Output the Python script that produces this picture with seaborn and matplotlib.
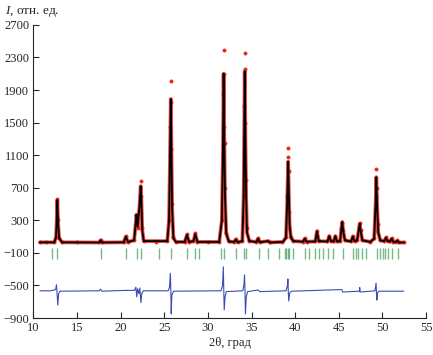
import numpy as np
import pandas as pd
import matplotlib
matplotlib.use('Agg')
import matplotlib.pyplot as plt
import seaborn as sns

obs_x = [10.75, 11.5, 12.4, 12.6, 12.68, 12.75, 12.83, 12.95, 13.3,
         15.0, 17.55, 17.7, 17.85,
         20.35, 20.6, 20.85,
         21.55, 21.72, 21.82, 21.95, 22.15, 22.3, 22.38, 22.48, 22.65,
         24.0, 25.35, 25.55, 25.65, 25.71, 25.75, 25.78, 25.83, 25.9, 26.05, 26.35,
         27.35, 27.6, 27.85, 28.35, 28.55, 28.8,
         30.0, 31.3, 31.6, 31.7, 31.76, 31.8, 31.84, 31.88, 31.92, 31.98, 32.1, 32.4,
         33.0, 33.2, 33.4,
         33.95, 34.1, 34.18, 34.22, 34.26, 34.3, 34.36, 34.46, 34.75,
         35.55, 35.75, 35.95, 36.9, 37.1, 38.5,
         38.95, 39.08, 39.15, 39.2, 39.25, 39.32, 39.5, 39.8,
         40.9, 41.1, 41.3, 42.3, 42.5, 42.7, 43.7, 43.9, 44.1, 44.4, 44.6, 44.8,
         45.15, 45.3, 45.4, 45.5, 45.7, 46.4, 46.6, 46.8,
         47.1, 47.3, 47.4, 47.5, 47.7, 48.6,
         49.05, 49.22, 49.3, 49.37, 49.47, 49.75,
         50.2, 50.4, 50.6, 50.85, 51.05, 51.25, 51.5, 51.7, 51.9, 52.45]
obs_y = [40, 30, 35, 90, 330, 560, 300, 80, 35,
         28, 30, 60, 30,
         35, 110, 40,
         60, 250, 370, 200, 420, 780, 600, 200, 50,
         35, 50, 300, 1100, 1450, 2010, 1750, 1180, 500, 90, 40,
         40, 130, 40, 50, 140, 40,
         30, 40, 300, 1000, 1850, 2390, 2100, 1440, 1250, 700, 150, 45,
         40, 70, 35,
         50, 600, 1700, 2350, 2160, 1500, 800, 200, 50,
         40, 80, 35, 50, 30, 40,
         100, 600, 1080, 1190, 900, 400, 100, 50,
         40, 80, 40, 45, 170, 50, 45, 110, 50, 45, 110, 45,
         50, 200, 270, 180, 60, 45, 110, 50,
         60, 200, 270, 180, 60, 40,
         80, 600, 935, 700, 250, 60,
         50, 90, 50, 45, 80, 40, 35, 55, 30, 30]

# calculated pattern
calc_x = [10.75, 12.4, 12.6, 12.68, 12.75, 12.83, 12.95, 13.3,
          17.55, 17.7, 17.85,
          20.35, 20.6, 20.85,
          21.55, 21.72, 21.82, 21.95, 22.15, 22.3, 22.38, 22.48, 22.65,
          25.35, 25.55, 25.65, 25.75, 25.83, 25.9, 26.05, 26.35,
          27.35, 27.6, 27.85, 28.35, 28.55, 28.8,
          31.3, 31.6, 31.72, 31.8, 31.88, 31.96, 32.1, 32.4,
          33.0, 33.2, 33.4,
          33.95, 34.1, 34.22, 34.3, 34.38, 34.48, 34.75,
          35.55, 35.75, 35.95, 36.9, 37.1, 38.6,
          38.95, 39.08, 39.2, 39.28, 39.36, 39.5, 39.8,
          40.9, 41.1, 41.3, 42.3, 42.5, 42.7, 43.7, 43.9, 44.1, 44.4, 44.6, 44.8,
          45.15, 45.3, 45.4, 45.5, 45.7, 46.4, 46.6, 46.8,
          47.1, 47.3, 47.4, 47.5, 47.7, 48.6,
          49.05, 49.22, 49.3, 49.4, 49.52, 49.75,
          50.2, 50.4, 50.6, 50.85, 51.05, 51.25, 51.5, 51.7, 51.9, 52.45]
calc_y = [30, 30, 90, 300, 550, 280, 80, 30,
          28, 55, 28,
          30, 100, 35,
          55, 250, 370, 220, 450, 720, 550, 180, 45,
          45, 300, 1000, 1790, 1100, 450, 80, 35,
          35, 120, 35, 45, 130, 35,
          35, 300, 1100, 2100, 1300, 600, 140, 40,
          35, 65, 32,
          45, 600, 2130, 1300, 600, 150, 45,
          35, 75, 32, 45, 28, 35,
          90, 500, 1020, 600, 250, 90, 45,
          38, 75, 38, 40, 165, 45, 40, 105, 45, 40, 105, 40,
          45, 200, 280, 170, 55, 40, 100, 45,
          55, 190, 260, 170, 55, 35,
          75, 500, 830, 450, 150, 55,
          45, 85, 45, 40, 75, 38, 32, 50, 28, 28]

# difference curve (obs - calc, shifted)
diff_x = [10.75, 12.0, 12.55, 12.65, 12.72, 12.8, 12.9, 13.05,
          17.55, 17.7, 17.85, 20.6,
          21.6, 21.75, 21.85, 21.95, 22.1, 22.2, 22.33, 22.42, 22.6,
          25.45, 25.6, 25.7, 25.74, 25.8, 25.87, 26.05,
          31.5, 31.68, 31.77, 31.82, 31.87, 31.97, 32.1,
          34.0, 34.14, 34.2, 34.25, 34.3, 34.4, 34.55,
          35.75, 35.95,
          38.95, 39.12, 39.17, 39.22, 39.27, 39.37, 39.6,
          45.35, 45.45, 47.35, 47.4, 47.45,
          49.15, 49.27, 49.32, 49.36, 49.43, 49.6, 52.45]
diff_y = [-565, -565, -550, -490, -600, -740, -600, -570,
          -565, -545, -570, -560,
          -560, -520, -640, -540, -600, -530, -710, -600, -565,
          -565, -520, -350, -500, -850, -620, -570,
          -565, -500, -270, -560, -800, -640, -575,
          -565, -480, -370, -560, -850, -640, -575,
          -555, -575,
          -565, -500, -420, -600, -690, -590, -570,
          -550, -580, -570, -525, -580,
          -565, -470, -600, -680, -590, -570, -570]

# Bragg reflection positions
bragg_pos = [12.1, 12.75, 17.7, 20.6, 21.85, 22.3, 24.4, 25.75, 27.6, 28.55, 28.95,
             31.48, 31.83, 33.24, 34.09, 34.35, 35.82, 36.89, 38.19, 38.81, 38.99,
             39.19, 39.34, 39.73, 41.11, 41.64, 42.26, 42.72, 43.22, 43.79, 44.37,
             45.52, 46.67, 46.93, 47.25, 47.63, 48.09, 49.43, 49.70, 50.01, 50.32,
             50.66, 51.12, 51.73]

obs = pd.DataFrame({'tth': obs_x, 'I': obs_y})
calc = pd.DataFrame({'tth': calc_x, 'I': calc_y})
diff = pd.DataFrame({'tth': diff_x, 'I': diff_y})

sns.set_style('ticks')
plt.rcParams['font.family'] = ['Liberation Serif', 'DejaVu Serif']
plt.rcParams['mathtext.fontset'] = 'custom'
plt.rcParams['mathtext.it'] = 'Liberation Serif:italic'
plt.rcParams['mathtext.rm'] = 'Liberation Serif'

fig = plt.figure(figsize=(4.33, 3.55), dpi=100)
ax = fig.add_axes([0.077, 0.104, 0.907, 0.826])

# dense observed points form a red band around the fit
sns.lineplot(data=calc, x='tth', y='I', color='#e8281e', lw=2.7, alpha=0.85, ax=ax)
sns.scatterplot(data=obs, x='tth', y='I', color='#e8281e', s=8, linewidth=0, ax=ax, zorder=3)
# calculated
sns.lineplot(data=calc, x='tth', y='I', color='black', lw=1.3, ax=ax, zorder=4)
# difference
sns.lineplot(data=diff, x='tth', y='I', color='#3b4db3', lw=0.8, ax=ax)
# Bragg ticks
ax.vlines(bragg_pos, -40, -175, color='#3f9c4f', lw=1.0, alpha=0.7)

ax.set_xlim(10, 55)
ax.set_ylim(-900, 2700)
ax.set_xticks(range(10, 56, 5))
ax.set_yticks(range(-900, 2701, 400))
ax.tick_params(direction='in', length=4, width=0.8, labelsize=9, pad=3)
sns.despine(ax=ax)
for s in ['left', 'bottom']:
    ax.spines[s].set_linewidth(0.8)

ax.set_xlabel('2θ, град', fontsize=9, labelpad=2)
ax.set_ylabel('')
fig.text(0.012, 0.968, r'$\mathit{I}$, отн. ед.', fontsize=9.5, va='center', ha='left')

fig.savefig('out.png', dpi=100)
